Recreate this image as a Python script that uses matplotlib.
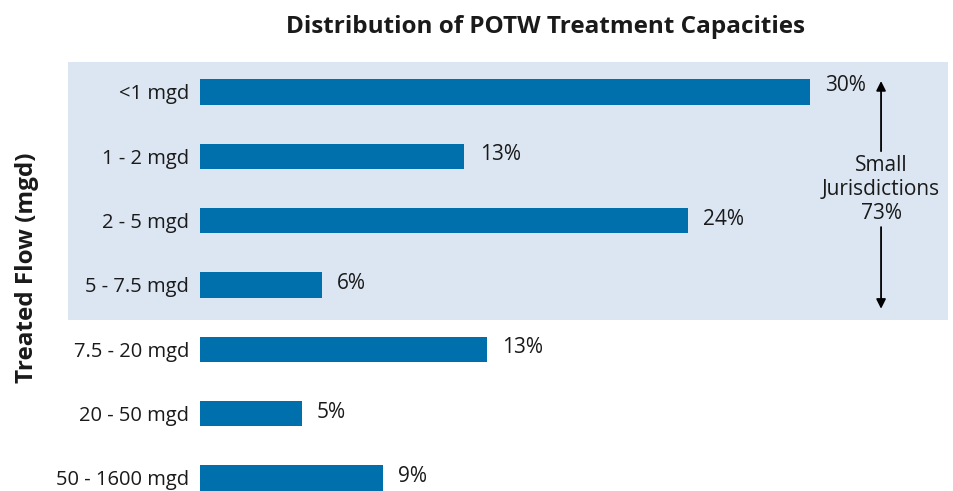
import matplotlib

matplotlib.use("Agg")

import matplotlib.pyplot as plt
from matplotlib.patches import Rectangle

plt.rcParams["font.family"] = ["Open Sans", "DejaVu Sans"]

categories = ["<1 mgd", "1 - 2 mgd", "2 - 5 mgd", "5 - 7.5 mgd",
              "7.5 - 20 mgd", "20 - 50 mgd", "50 - 1600 mgd"]
# bar lengths as drawn (the 7.5-20 bar is drawn a little longer than its label)
bar_lengths = [30, 13, 24, 6, 14.1, 5, 9]
share_labels = ["30%", "13%", "24%", "6%", "13%", "5%", "9%"]
small_label = "Small\nJurisdictions\n73%"

BAR = "#0070ad"
SHADE = "#dce6f2"
TXT = "#1a1a1a"

fig = plt.figure(figsize=(9.54, 4.91), dpi=100)
ax = fig.add_axes([200 / 954, 0, 748 / 954, (491 - 62) / 491])
ax.set_facecolor("none")

# shaded band behind the small-jurisdiction rows
ax.add_patch(Rectangle((68 / 954, (491 - 320) / 491), 880 / 954, 258 / 491,
                       transform=fig.transFigure, facecolor=SHADE,
                       edgecolor="none", zorder=0, clip_on=False))

ypos = list(range(len(categories)))
ax.barh(ypos, bar_lengths, height=0.39, color=BAR, zorder=2)
for i, (y, v, lab) in enumerate(zip(ypos, bar_lengths, share_labels)):
    dy = 5 if i == 0 else 1
    ax.annotate(lab, (v, y), xytext=(11, dy), textcoords="offset points",
                va="center", ha="left", fontsize=15, color=TXT)

ax.set_xlim(0, 748 / 20.33)
ax.set_ylim(6 + 13 / 64.33, -0.466)
ax.set_yticks(ypos)
ax.set_yticklabels(categories, fontsize=14.5, color=TXT)
ax.tick_params(axis="y", length=0, pad=8)
ax.set_xticks([])
for s in ax.spines.values():
    s.set_visible(False)

# arrow annotation for small jurisdictions
ax_x = 33.5
ax.annotate("", xy=(ax_x, -0.17), xytext=(ax_x, 0.92),
            arrowprops=dict(arrowstyle="-|>", color="black", lw=1.3,
                            mutation_scale=14, shrinkA=0, shrinkB=0))
ax.annotate("", xy=(ax_x, 3.37), xytext=(ax_x, 2.1),
            arrowprops=dict(arrowstyle="-|>", color="black", lw=1.3,
                            mutation_scale=14, shrinkA=0, shrinkB=0))
ax.text(ax_x, 1.52, small_label, ha="center", va="center", fontsize=15,
        color=TXT, linespacing=1.2)

fig.text(545 / 954, 1 - 27 / 491, "Distribution of POTW Treatment Capacities",
         ha="center", va="center", fontsize=17.5, fontweight="bold", color=TXT)
fig.text(27 / 954, 1 - 268 / 491, "Treated Flow (mgd)", rotation=90,
         ha="center", va="center", fontsize=17.5, fontweight="bold", color=TXT)

fig.savefig("out.png", dpi=100)
